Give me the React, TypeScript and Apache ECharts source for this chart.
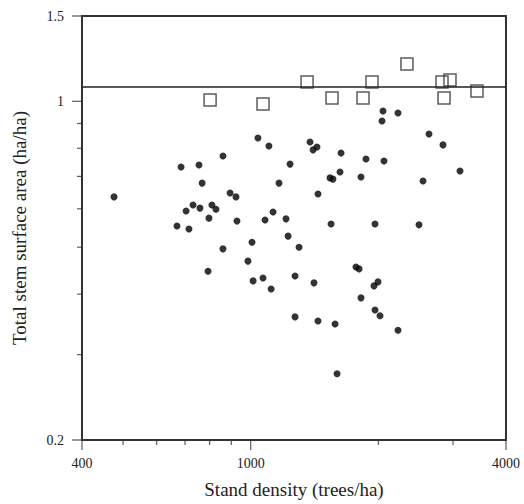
import React, { useEffect, useRef } from "react";
import * as echarts from "echarts";

// Stand density (trees/ha) and total stem surface area (ha/ha) — filled dots
const dotDensity = [
  476, 670, 685, 704, 715, 731, 755, 759, 768, 793, 797, 810, 828, 860, 860, 894, 923, 928,
  985, 1007, 1013, 1040, 1069, 1081, 1104, 1117, 1129, 1166, 1211, 1225, 1238, 1272, 1272,
  1300, 1380, 1403, 1410, 1433, 1441, 1441, 1538, 1547, 1563, 1581, 1598, 1624, 1633, 1771,
  1801, 1820, 1820, 1870, 1953, 1964, 1964, 1996, 2018, 2040, 2051, 2062, 2225, 2225, 2494,
  2549, 2633, 2841, 3116,
];
const dotArea = [
  0.635, 0.553, 0.732, 0.594, 0.545, 0.611, 0.739, 0.602, 0.678, 0.446, 0.574, 0.611, 0.599,
  0.771, 0.496, 0.647, 0.635, 0.566, 0.468, 0.512, 0.426, 0.84, 0.432, 0.569, 0.809, 0.41,
  0.591, 0.678, 0.572, 0.527, 0.742, 0.436, 0.359, 0.5, 0.824, 0.794, 0.422, 0.805, 0.644,
  0.352, 0.695, 0.558, 0.691, 0.347, 0.274, 0.715, 0.782, 0.455, 0.451, 0.698, 0.393, 0.76,
  0.416, 0.558, 0.371, 0.424, 0.361, 0.911, 0.955, 0.753, 0.946, 0.337, 0.556, 0.685, 0.856,
  0.813, 0.718,
];

// Open squares
const squareDensity = [802, 1069, 1358, 1555, 1840, 1932, 2336, 2826, 2951, 2857, 3417];
const squareArea = [1.006, 0.987, 1.096, 1.016, 1.016, 1.096, 1.194, 1.096, 1.107, 1.016, 1.05];

// Horizontal reference line
const referenceArea = 1.064;

// Axes (log scales)
const xRange = [400, 4000];
const yRange = [0.2, 1.5];
const xMajorTicks = [400, 1000, 4000];
const xMinorTicks = [500, 600, 700, 800, 900, 2000, 3000];
const yMajorTicks = [0.2, 1, 1.5];
const yMinorTicks = [0.3, 0.4, 0.5, 0.6, 0.7, 0.8, 0.9];

const L = (v: number) => Math.log10(v);
const fmt = (v: number) => String(Number(Math.pow(10, v).toPrecision(3)));
const FONT = "'Liberation Serif', 'Times New Roman', serif";
const INK = "#222";
const TICK_COLOR = "#333";

export default function App() {
  const ref = useRef<HTMLDivElement>(null);
  useEffect(() => {
    if (!ref.current) return;
    const chart = echarts.init(ref.current, null, { renderer: "svg" });
    const xBase = {
      type: "value" as const,
      min: L(xRange[0]),
      max: L(xRange[1]),
      splitLine: { show: false },
      axisTick: { show: false },
    };
    const yBase = {
      type: "value" as const,
      min: L(yRange[0]),
      max: L(yRange[1]),
      splitLine: { show: false },
      axisTick: { show: false },
    };
    const frame = { show: true, onZero: false, lineStyle: { color: "#333", width: 2 } };
    // tick marks drawn as symbols anchored at axis values, pushed outside the plot
    const tickSeries = (
      data: number[][],
      size: number[],
      offset: number[]
    ) => ({
      type: "scatter",
      xAxisIndex: 0,
      yAxisIndex: 0,
      silent: true,
      clip: false,
      symbol: "rect",
      symbolSize: size,
      symbolOffset: offset,
      itemStyle: { color: TICK_COLOR },
      z: 1,
      data,
    });
    chart.setOption({
      animation: false,
      backgroundColor: "#fff",
      grid: { left: 82, right: 18, top: 16, bottom: 64 },
      xAxis: [
        {
          ...xBase,
          position: "bottom",
          axisLine: frame,
          name: "Stand density (trees/ha)",
          nameLocation: "middle",
          nameGap: 40,
          nameTextStyle: { fontFamily: FONT, fontSize: 19, color: INK },
          axisLabel: {
            show: true,
            customValues: xMajorTicks.map(L),
            formatter: (v: number) => fmt(v),
            margin: 16,
            fontFamily: FONT,
            fontSize: 14,
            color: INK,
          },
        },
        {
          ...xBase,
          position: "top",
          axisLine: frame,
          axisLabel: { show: false },
        },
      ],
      yAxis: [
        {
          ...yBase,
          position: "left",
          axisLine: frame,
          name: "Total stem surface area (ha/ha)",
          nameLocation: "middle",
          nameGap: 53,
          nameTextStyle: { fontFamily: FONT, fontSize: 19, color: INK },
          axisLabel: {
            show: true,
            customValues: yMajorTicks.map(L),
            formatter: (v: number) => fmt(v),
            margin: 18,
            fontFamily: FONT,
            fontSize: 14,
            color: INK,
          },
        },
        {
          ...yBase,
          position: "right",
          axisLine: frame,
          axisLabel: { show: false },
        },
      ],
      series: [
        tickSeries(xMajorTicks.map((v) => [L(v), L(yRange[0])]), [1.2, 10], [0, 5]),
        tickSeries(xMinorTicks.map((v) => [L(v), L(yRange[0])]), [1.2, 5], [0, 2.5]),
        tickSeries(yMajorTicks.map((v) => [L(xRange[0]), L(v)]), [10, 1.2], [-5, 0]),
        tickSeries(yMinorTicks.map((v) => [L(xRange[0]), L(v)]), [5, 1.2], [-2.5, 0]),
        {
          type: "scatter",
          xAxisIndex: 0,
          yAxisIndex: 0,
          symbol: "circle",
          symbolSize: 7,
          itemStyle: { color: "#000" },
          data: dotDensity.map((d, i) => [L(d), L(dotArea[i])]),
        },
        {
          type: "scatter",
          xAxisIndex: 0,
          yAxisIndex: 0,
          symbol: "rect",
          symbolSize: 12,
          itemStyle: { color: "rgba(255,255,255,0)", borderColor: "#333", borderWidth: 1.5 },
          data: squareDensity.map((d, i) => [L(d), L(squareArea[i])]),
          markLine: {
            silent: true,
            symbol: "none",
            label: { show: false },
            lineStyle: { color: "#222", width: 1.5, type: "solid" },
            data: [{ yAxis: L(referenceArea) }],
          },
        },
      ],
    });
    return () => chart.dispose();
  }, []);
  return (
    <div
      ref={ref}
      style={{ position: "absolute", left: 0, top: 0, width: 524, height: 504 }}
    />
  );
}
